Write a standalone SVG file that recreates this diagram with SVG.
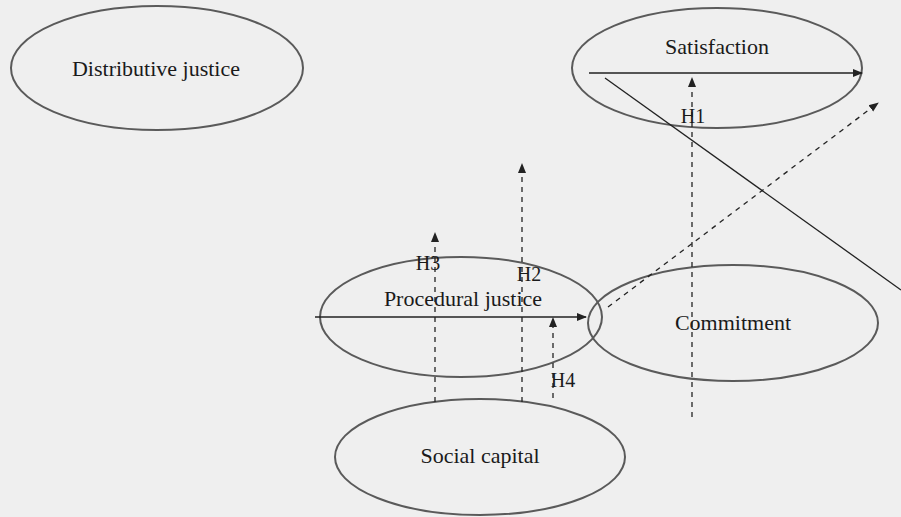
<svg xmlns="http://www.w3.org/2000/svg" width="901" height="517" viewBox="0 0 901 517">
<defs>
<style>
.node ellipse{fill:none;stroke:#5a5a5a;stroke-width:2}
text{font-family:"Liberation Serif","Times New Roman",serif;font-size:22px;fill:#1a1a1a;text-anchor:middle}
.lbl{font-size:20px}
.c{stroke:#222;stroke-width:1.3;fill:none}
.d{stroke-dasharray:5,5}
</style>
<marker id="ah" viewBox="0 0 10 10" refX="9" refY="5" markerWidth="10" markerHeight="10" markerUnits="userSpaceOnUse" orient="auto">
<path d="M0,1 L10,5 L0,9 Z" fill="#222"/>
</marker>
</defs>
<rect width="901" height="517" fill="#efefef"/>
<g id="distributive-justice" class="node">
<ellipse cx="157" cy="68" rx="146" ry="62"/>
<text x="156" y="76">Distributive justice</text>
</g>
<g id="satisfaction" class="node">
<ellipse cx="717" cy="68" rx="145" ry="60"/>
<text x="717" y="54">Satisfaction</text>
</g>
<g id="procedural-justice" class="node">
<ellipse cx="461" cy="317" rx="141" ry="60"/>
<text x="463" y="306">Procedural justice</text>
</g>
<g id="commitment" class="node">
<ellipse cx="733" cy="323" rx="145" ry="58"/>
<text x="733" y="330">Commitment</text>
</g>
<g id="social-capital" class="node">
<ellipse cx="480" cy="457" rx="145" ry="58"/>
<text x="480" y="463">Social capital</text>
</g>
<g id="connectors">
<line class="c" x1="589" y1="73" x2="862" y2="73" marker-end="url(#ah)"/>
<line class="c" x1="605" y1="78" x2="901" y2="290"/>
<line class="c d" x1="608" y1="307" x2="878" y2="103" marker-end="url(#ah)"/>
<line class="c d" x1="692" y1="417" x2="692" y2="78" marker-end="url(#ah)"/>
<line class="c" x1="315" y1="317" x2="586" y2="317" marker-end="url(#ah)"/>
<line class="c d" x1="435" y1="402" x2="435" y2="233" marker-end="url(#ah)"/>
<line class="c d" x1="522" y1="402" x2="522" y2="164" marker-end="url(#ah)"/>
<line class="c d" x1="553" y1="398" x2="553" y2="318" marker-end="url(#ah)"/>
<text class="lbl" x="693" y="123">H1</text>
<text class="lbl" x="529" y="281">H2</text>
<text class="lbl" x="428" y="270">H3</text>
<text class="lbl" x="563" y="387">H4</text>
</g>
</svg>
